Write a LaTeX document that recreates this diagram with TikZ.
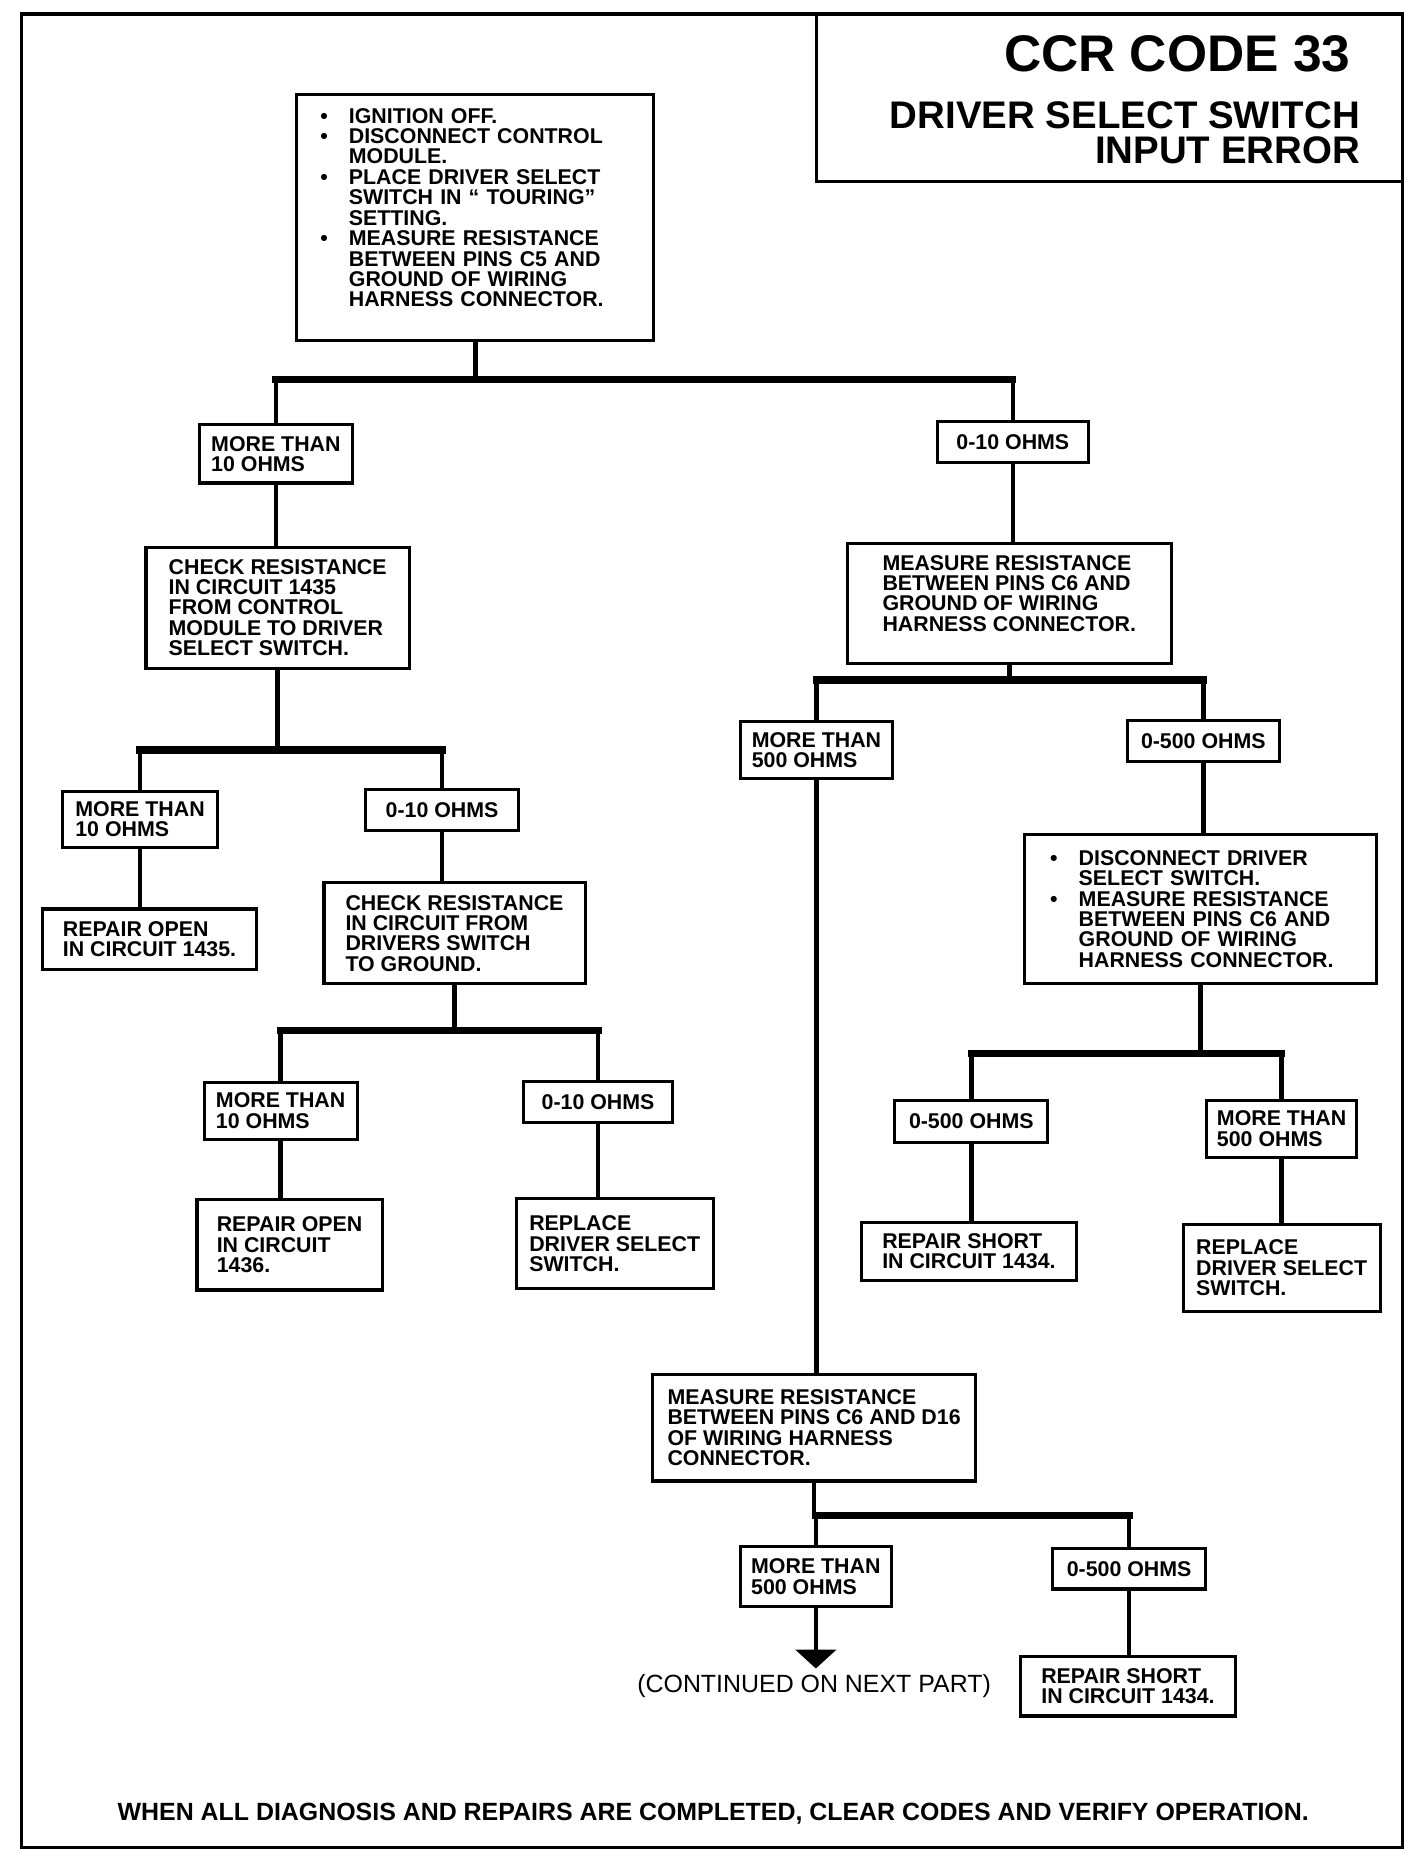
\documentclass[tikz,border=0pt]{standalone}
\usepackage{fontspec}
\setmainfont{Liberation Sans}
\usetikzlibrary{arrows.meta}
\newcommand\bul{\makebox[12pt][l]{\textbullet}}
\newcommand\ind{\hspace*{12pt}}
\begin{document}
\begin{tikzpicture}[x=0.5pt,y=-0.5pt,
    boite/.style={draw,line width=1.3pt,align=left,inner sep=0pt,font=\fontsize{9}{8.6}\selectfont\bfseries},
    taille/.style 2 args={minimum width=#1*0.5pt,minimum height=#2*0.5pt},
    tige/.style={line width=1.9pt},
    barre/.style={line width=3pt,line cap=rect},
    cadre/.style={line width=1.5pt}]
    \useasboundingbox (0,0) rectangle (1200,1564);
    \draw[cadre] (18,12) rectangle (1182,1557);
    \draw[cadre] (688,12) rectangle (1182,153);
    \node[anchor=base east,font=\fontsize{21.7}{21.7}\selectfont\bfseries] (code) at (1145,60) {CCR CODE 33};
    \node[anchor=base east,font=\fontsize{16.2}{16.2}\selectfont\bfseries] (titre) at (1153,108) {DRIVER SELECT SWITCH};
    \node[anchor=base east,font=\fontsize{16.2}{16.2}\selectfont\bfseries] (titreb) at (1153,138) {INPUT ERROR};
    % boites
    \node[boite,text width=130.5pt,inner xsep=10pt,minimum height=103.5pt] (b1) at (400.5,183.5)
        {\bul IGNITION OFF.\\ \bul DISCONNECT CONTROL\\ \ind MODULE.\\ \bul PLACE DRIVER SELECT\\ \ind SWITCH IN `` TOURING''\\ \ind SETTING.\\ \bul MEASURE RESISTANCE\\ \ind BETWEEN PINS C5 AND\\ \ind GROUND OF WIRING\\ \ind HARNESS CONNECTOR.\\ \mbox{}};
    \node[boite,taille={129}{49}] (m10a) at (232.5,382.5) {MORE THAN\\10 OHMS};
    \node[boite,taille={127}{35}] (o10a) at (853.5,372.5) {0-10 OHMS};
    \node[boite,taille={222}{102}] (chk1) at (234,512) {CHECK RESISTANCE\\IN CIRCUIT 1435\\FROM CONTROL\\MODULE TO DRIVER\\SELECT SWITCH.};
    \node[boite,taille={130}{47}] (m10b) at (118,690.5) {MORE THAN\\10 OHMS};
    \node[boite,taille={129}{35}] (o10b) at (372.5,682.5) {0-10 OHMS};
    \node[boite,taille={180}{51}] (rep1435) at (126,791.5) {REPAIR OPEN\\IN CIRCUIT 1435.};
    \node[boite,taille={220}{85}] (chk2) at (383,786.5) {CHECK RESISTANCE\\IN CIRCUIT FROM\\DRIVERS SWITCH\\TO GROUND.};
    \node[boite,taille={129}{48}] (m10c) at (236.5,936) {MORE THAN\\10 OHMS};
    \node[boite,taille={126}{35}] (o10c) at (504,928.5) {0-10 OHMS};
    \node[boite,taille={156}{76}] (rep1436) at (244,1049) {REPAIR OPEN\\IN CIRCUIT\\1436.};
    \node[boite,taille={166}{76}] (repl1) at (518,1048) {REPLACE\\DRIVER SELECT\\SWITCH.};
    \node[boite,taille={273}{101}] (meas1) at (850.5,508.5) {MEASURE RESISTANCE\\BETWEEN PINS C6 AND\\GROUND OF WIRING\\HARNESS CONNECTOR.\\ \mbox{}};
    \node[boite,taille={128}{48}] (m500a) at (688,632) {MORE THAN\\500 OHMS};
    \node[boite,taille={128}{35}] (o500a) at (1014,624.5) {0-500 OHMS};
    \node[boite,text width=126.5pt,inner xsep=11pt,minimum height=63pt] (disc) at (1011.5,766)
        {\bul DISCONNECT DRIVER\\ \ind SELECT SWITCH.\\ \bul MEASURE RESISTANCE\\ \ind BETWEEN PINS C6 AND\\ \ind GROUND OF WIRING\\ \ind HARNESS CONNECTOR.};
    \node[boite,taille={129}{36}] (o500b) at (818.5,945) {0-500 OHMS};
    \node[boite,taille={126}{48}] (m500b) at (1080,951) {MORE THAN\\500 OHMS};
    \node[boite,taille={181}{49}] (rs1) at (816.5,1054.5) {REPAIR SHORT\\IN CIRCUIT 1434.};
    \node[boite,taille={166}{73}] (repl2) at (1080,1068.5) {REPLACE\\DRIVER SELECT\\SWITCH.};
    \node[boite,taille={272}{90}] (meas2) at (686,1203) {MEASURE RESISTANCE\\BETWEEN PINS C6 AND D16\\OF WIRING HARNESS\\CONNECTOR.};
    \node[boite,taille={127}{51}] (m500c) at (687.5,1328.5) {MORE THAN\\500 OHMS};
    \node[boite,taille={129}{34}] (o500c) at (951.5,1322) {0-500 OHMS};
    \node[boite,taille={181}{50}] (rs2) at (950.5,1421) {REPAIR SHORT\\IN CIRCUIT 1434.};
    \node[font=\fontsize{10.5}{10.5}\selectfont] (suite) at (686,1421) {(CONTINUED ON NEXT PART)};
    \node[font=\fontsize{10.5}{10.5}\selectfont\bfseries] (fin) at (601,1528) {WHEN ALL DIAGNOSIS AND REPAIRS ARE COMPLETED, CLEAR CODES AND VERIFY OPERATION.};
    % branches
    \coordinate (j1) at (400.5,320);
    \coordinate (j2) at (234,632);
    \coordinate (j3) at (383,868);
    \coordinate (j4) at (850.5,573);
    \coordinate (j5) at (1011.5,888);
    \coordinate (j6) at (686,1277);
    \coordinate (pointe) at (687.5,1406);
    \draw[tige] (b1) -- (j1);
    \draw[barre] (m10a |- j1) -- (o10a |- j1);
    \draw[tige] (m10a |- j1) -- (m10a);
    \draw[tige] (o10a |- j1) -- (o10a);
    \draw[tige] (m10a) -- (m10a |- chk1.north);
    \draw[tige] (chk1) -- (j2);
    \draw[barre] (m10b |- j2) -- (o10b |- j2);
    \draw[tige] (m10b |- j2) -- (m10b);
    \draw[tige] (o10b |- j2) -- (o10b);
    \draw[tige] (m10b) -- (m10b |- rep1435.north);
    \draw[tige] (o10b) -- (o10b |- chk2.north);
    \draw[tige] (chk2) -- (j3);
    \draw[barre] (m10c |- j3) -- (o10c |- j3);
    \draw[tige] (m10c |- j3) -- (m10c);
    \draw[tige] (o10c |- j3) -- (o10c);
    \draw[tige] (m10c) -- (m10c |- rep1436.north);
    \draw[tige] (o10c) -- (o10c |- repl1.north);
    \draw[tige] (o10a) -- (o10a |- meas1.north);
    \draw[tige] (meas1) -- (j4);
    \draw[barre] (m500a |- j4) -- (o500a |- j4);
    \draw[tige] (m500a |- j4) -- (m500a);
    \draw[tige] (o500a |- j4) -- (o500a);
    \draw[tige] (o500a) -- (o500a |- disc.north);
    \draw[tige] (disc) -- (j5);
    \draw[barre] (o500b |- j5) -- (m500b |- j5);
    \draw[tige] (o500b |- j5) -- (o500b);
    \draw[tige] (m500b |- j5) -- (m500b);
    \draw[tige] (o500b) -- (o500b |- rs1.north);
    \draw[tige] (m500b) -- (m500b |- repl2.north);
    \draw[tige] (m500a) -- (m500a |- meas2.north);
    \draw[tige] (meas2) -- (j6);
    \draw[barre] (m500c |- j6) -- (o500c |- j6);
    \draw[tige] (m500c |- j6) -- (m500c);
    \draw[tige] (o500c |- j6) -- (o500c);
    \draw[tige] (o500c) -- (o500c |- rs2.north);
    \draw[tige,-{Triangle[width=17pt,length=8pt]}] (m500c) -- (pointe);%vers la suite
\end{tikzpicture}
\end{document}
